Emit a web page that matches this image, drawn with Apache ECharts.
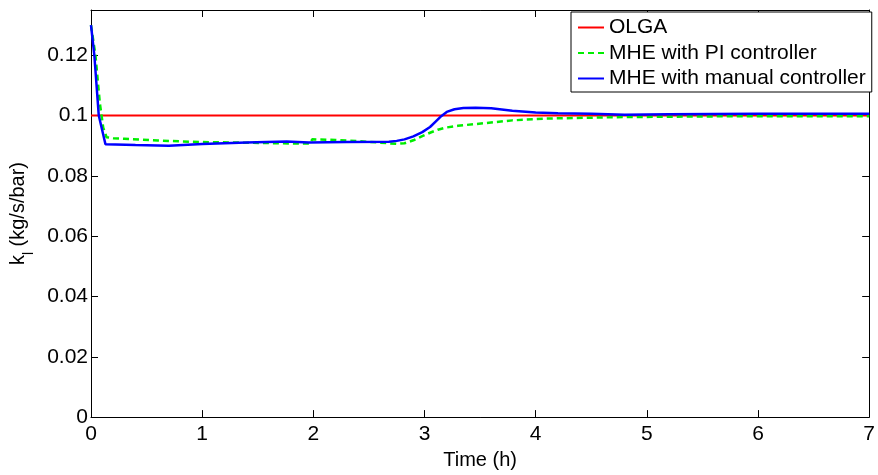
<!DOCTYPE html>
<html>
<head>
<meta charset="utf-8">
<script src="https://cdn.jsdelivr.net/npm/echarts@6/dist/echarts.min.js"></script>
<style>html,body{margin:0;padding:0;background:#fff}#c{width:878px;height:475px}</style>
</head>
<body>
<div id="c"></div>
<script>
// ---- data ----
const seriesNames = ["OLGA", "MHE with PI controller", "MHE with manual controller"];
const xTicks = [0, 1, 2, 3, 4, 5, 6, 7];
const yTicks = [0, 0.02, 0.04, 0.06, 0.08, 0.1, 0.12];

const tOlga = [0, 7];
const kOlga = [0.1, 0.1];

const tPI = [0, 0.04, 0.08, 0.11, 0.14, 0.2, 0.3, 0.6, 1.0, 1.4, 1.7, 1.97, 1.99, 2.2, 2.5, 2.75, 2.82, 2.9, 2.98, 3.05, 3.12, 3.19, 3.3, 3.49, 3.79, 4.09, 4.5, 4.8, 5.5, 6.0, 7.0];
const kPI = [0.130, 0.120, 0.104, 0.096, 0.0928, 0.0925, 0.0923, 0.0917, 0.0912, 0.0910, 0.0908, 0.0907, 0.0921, 0.0919, 0.0913, 0.0906, 0.0908, 0.0918, 0.0932, 0.0943, 0.0953, 0.0960, 0.0966, 0.0973, 0.0984, 0.0990, 0.0993, 0.0995, 0.0997, 0.0998, 0.0998];

const tManual = [0, 0.03, 0.07, 0.13, 0.4, 0.7, 1.0, 1.4, 1.76, 1.96, 2.3, 2.68, 2.75, 2.82, 2.9, 2.98, 3.05, 3.1, 3.15, 3.2, 3.27, 3.35, 3.46, 3.6, 3.79, 4.0, 4.2, 4.5, 4.8, 5.2, 5.6, 6.0, 6.4, 6.8, 7.0];
const kManual = [0.130, 0.120, 0.100, 0.0905, 0.0902, 0.0900, 0.0906, 0.0911, 0.0914, 0.0911, 0.0912, 0.0913, 0.0916, 0.0921, 0.0931, 0.0945, 0.0962, 0.0980, 0.0998, 0.1012, 0.1021, 0.1025, 0.1026, 0.1024, 0.1016, 0.1010, 0.1008, 0.1006, 0.1003, 0.1004, 0.1005, 0.1006, 0.1006, 0.1006, 0.1006];

const zip = (t, k) => t.map((v, i) => [v, k[i]]);

const FONT = "'Liberation Sans', Arial, Helvetica, sans-serif";
const chart = echarts.init(document.getElementById('c'));
const axisLineStyle = { onZero: false, lineStyle: { color: '#000', width: 1 } };
const tickStyle = { inside: true, length: 7, lineStyle: { color: '#000', width: 1 } };

chart.setOption({
  animation: false,
  backgroundColor: '#fff',
  textStyle: { fontFamily: FONT },
  grid: { left: 91, right: 5, top: 10, bottom: 53, containLabel: false },
  legend: {
    orient: 'vertical',
    left: 571, top: 12,
    padding: [5, 6, 3, 6],
    backgroundColor: '#fff',
    borderColor: '#000', borderWidth: 1, borderRadius: 0,
    itemWidth: 26, itemHeight: 14, itemGap: 4.5, itemTextGap: 3,
    itemStyle: { opacity: 0 },
    textStyle: { fontFamily: FONT, fontSize: 21, color: '#000', lineHeight: 21 },
    data: seriesNames
  },
  xAxis: [
    {
      type: 'value', min: 0, max: 7, interval: 1, position: 'bottom',
      name: 'Time (h)', nameLocation: 'middle', nameGap: 27,
      nameTextStyle: { fontFamily: FONT, fontSize: 20, color: '#000' },
      axisLine: axisLineStyle, axisTick: tickStyle,
      axisLabel: { color: '#000', fontSize: 21, fontFamily: FONT, margin: 7 },
      splitLine: { show: false }
    },
    {
      type: 'value', min: 0, max: 7, interval: 1, position: 'top',
      axisLine: axisLineStyle, axisTick: tickStyle,
      axisLabel: { show: false }, splitLine: { show: false }
    }
  ],
  yAxis: [
    {
      type: 'value', min: 0, max: 0.135, interval: 0.02, position: 'left',
      name: 'k{sub|l} (kg/s/bar)', nameLocation: 'middle', nameGap: 55,
      nameTextStyle: { fontFamily: FONT, fontSize: 20, color: '#000',
        rich: { sub: { fontFamily: FONT, fontSize: 14, color: '#000', verticalAlign: 'bottom', padding: [0, 0, -8, 0] } } },
      axisLine: axisLineStyle, axisTick: tickStyle,
      axisLabel: { color: '#000', fontSize: 21, fontFamily: FONT, margin: 3, showMaxLabel: false,
        formatter: v => (yTicks.some(t => Math.abs(t - v) < 1e-9) ? String(+v.toFixed(2)) : '') },
      splitLine: { show: false }
    },
    {
      type: 'value', min: 0, max: 0.135, interval: 0.02, position: 'right',
      axisLine: axisLineStyle, axisTick: tickStyle,
      axisLabel: { show: false }, splitLine: { show: false }
    }
  ],
  series: [
    { name: seriesNames[0], type: 'line', data: zip(tOlga, kOlga), symbol: 'none',
      lineStyle: { color: '#ff0000', width: 2 }, itemStyle: { color: '#ff0000' }, z: 2 },
    { name: seriesNames[1], type: 'line', data: zip(tPI, kPI), symbol: 'none',
      lineStyle: { color: '#00ee00', width: 2.5, type: [6, 4] }, itemStyle: { color: '#00ee00' }, z: 3 },
    { name: seriesNames[2], type: 'line', data: zip(tManual, kManual), symbol: 'none',
      lineStyle: { color: '#0000ff', width: 2.5 }, itemStyle: { color: '#0000ff' }, z: 4 }
  ]
});
</script>
</body>
</html>
